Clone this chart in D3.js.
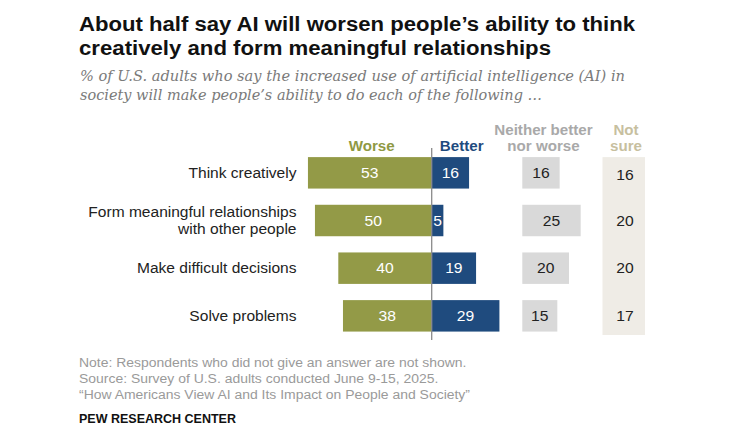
<!DOCTYPE html>
<html>
<head>
<meta charset="utf-8">
<script src="https://cdn.jsdelivr.net/npm/d3@7"></script>
<style>
  html, body { margin: 0; padding: 0; background: #fff; }
  svg { display: block; }
</style>
</head>
<body>
<svg id="chart" width="731" height="437"></svg>
<script>
// ---- data ----
const categories = ["Think creatively", "Form meaningful relationships", "Make difficult decisions", "Solve problems"];
const categoryLines = [["Think creatively"], ["Form meaningful relationships", "with other people"], ["Make difficult decisions"], ["Solve problems"]];
const worse = [53, 50, 40, 38];
const better = [16, 5, 19, 29];
const neither = [16, 25, 20, 15];
const notSure = [16, 20, 20, 17];
const headers = { worse: ["Worse"], better: ["Better"], neither: ["Neither better", "nor worse"], notSure: ["Not", "sure"] };
const titleLines = ["About half say AI will worsen people\u2019s ability to think", "creatively and form meaningful relationships"];
const subtitleLines = ["% of U.S. adults who say the increased use of artificial intelligence (AI) in", "society will make people\u2019s ability to do each of the following \u2026"];
const noteLines = ["Note: Respondents who did not give an answer are not shown.", "Source: Survey of U.S. adults conducted June 9-15, 2025.", "\u201CHow Americans View AI and Its Impact on People and Society\u201D"];
const credit = "PEW RESEARCH CENTER";

// ---- styles ----
const C = { worse: "#939a47", better: "#1f4b7e", neither: "#d9d9d9", notSureBg: "#efece6",
            worseHead: "#8f9943", betterHead: "#1f4b7e", neitherHead: "#a9a9a9", notSureHead: "#c7bf9f" };
const SANS = "'Liberation Sans', Arial, sans-serif";
const SERIF = "'DejaVu Serif', Georgia, serif";

const svg = d3.select("#chart");

function fitText(sel, w) {
  sel.attr("textLength", w).attr("lengthAdjust", "spacingAndGlyphs");
}
function stretch(sel, f) {
  sel.each(function () {
    const len = this.getComputedTextLength();
    d3.select(this).attr("textLength", len * f).attr("lengthAdjust", "spacingAndGlyphs");
  });
}

// Title
const titleEnds = [635, 551];
titleLines.forEach((t, i) => {
  svg.append("text").attr("x", 79).attr("y", 31 + i * 24)
    .attr("font-family", SANS).attr("font-weight", "bold").attr("font-size", 20)
    .attr("fill", "#111").text(t).call(fitText, titleEnds[i] - 79);
});
// Subtitle
const subEnds = [625, 542];
subtitleLines.forEach((t, i) => {
  svg.append("text").attr("x", 80).attr("y", 81 + i * 18.5)
    .attr("font-family", SERIF).attr("font-style", "italic").attr("font-size", 14.5)
    .attr("fill", "#7a7a7a").text(t).call(fitText, subEnds[i] - 80);
});

// Scales
const y = d3.scaleBand().domain(categories).range([149, 149 + 4 * 47.67]).paddingInner(0.34).paddingOuter(0.17);
const x = d3.scaleLinear().domain([0, 100]).range([0, 233.5]);
const zeroX = 431.7;
const neitherX = 522.3;
const notSureX = 625;

// Category labels
categories.forEach((c, i) => {
  const lines = categoryLines[i];
  const cy = y(c) + y.bandwidth() / 2;
  const lh = 16.5;
  lines.forEach((l, j) => {
    svg.append("text").attr("x", 296.5)
      .attr("y", cy + 5 + (j - (lines.length - 1) / 2) * lh)
      .attr("text-anchor", "end").attr("font-family", SANS).attr("font-size", 14)
      .attr("fill", "#222").text(l).call(stretch, 1.11);
  });
});

// Not sure background
svg.append("rect").attr("x", 602.5).attr("y", y(categories[0]))
  .attr("width", 42.5).attr("height", 335 - y(categories[0])).attr("fill", C.notSureBg);

// Bars
const g = svg.append("g");
g.selectAll("rect.worse").data(worse).join("rect").attr("class", "worse")
  .attr("x", d => zeroX - x(d)).attr("y", (d, i) => y(categories[i]))
  .attr("width", d => x(d)).attr("height", y.bandwidth()).attr("fill", C.worse);
g.selectAll("rect.better").data(better).join("rect").attr("class", "better")
  .attr("x", zeroX).attr("y", (d, i) => y(categories[i]))
  .attr("width", d => x(d)).attr("height", y.bandwidth()).attr("fill", C.better);
g.selectAll("rect.neither").data(neither).join("rect").attr("class", "neither")
  .attr("x", neitherX).attr("y", (d, i) => y(categories[i]))
  .attr("width", d => x(d)).attr("height", y.bandwidth()).attr("fill", C.neither);

// Values
const valText = (sel) => sel.attr("text-anchor", "middle").attr("dy", "0.36em")
  .attr("font-family", SANS).attr("font-size", 14.5);
g.selectAll("text.worse").data(worse).join("text").attr("class", "worse").call(valText)
  .attr("x", d => zeroX - x(d) / 2).attr("y", (d, i) => y(categories[i]) + y.bandwidth() / 2)
  .attr("fill", "#fff").text(d => d).call(stretch, 1.08);
g.selectAll("text.better").data(better).join("text").attr("class", "better").call(valText)
  .attr("x", d => zeroX + x(d) / 2).attr("y", (d, i) => y(categories[i]) + y.bandwidth() / 2)
  .attr("fill", "#fff").text(d => d).call(stretch, 1.08);
g.selectAll("text.neither").data(neither).join("text").attr("class", "neither").call(valText)
  .attr("x", d => neitherX + x(d) / 2).attr("y", (d, i) => y(categories[i]) + y.bandwidth() / 2)
  .attr("fill", "#222").text(d => d).call(stretch, 1.08);
g.selectAll("text.notsure").data(notSure).join("text").attr("class", "notsure").call(valText)
  .attr("x", notSureX).attr("y", (d, i) => y(categories[i]) + y.bandwidth() / 2 + (i === 0 ? 2 : 0))
  .attr("fill", "#222").text(d => d).call(stretch, 1.08);

// Zero line
svg.append("line").attr("x1", zeroX).attr("x2", zeroX).attr("y1", 148).attr("y2", 340)
  .attr("stroke", "#8a8a8a").attr("stroke-width", 1.3);

// Headers
function header(lines, cx, color) {
  lines.forEach((l, j) => {
    svg.append("text").attr("x", cx).attr("y", 151 - (lines.length - 1 - j) * 16.5)
      .attr("text-anchor", "middle").attr("font-family", SANS).attr("font-weight", "bold")
      .attr("font-size", 14).attr("fill", color).text(l).call(stretch, 1.08);
  });
}
header(headers.worse, 371.7, C.worseHead);
header(headers.better, 461.7, C.betterHead);
header(headers.neither, 543.5, C.neitherHead);
header(headers.notSure, 626, C.notSureHead);

// Notes
noteLines.forEach((t, i) => {
  svg.append("text").attr("x", 79).attr("y", 367 + i * 16)
    .attr("font-family", SANS).attr("font-size", 12.5).attr("fill", "#9a9a9a").text(t)
    .call(stretch, 1.115);
});
svg.append("text").attr("x", 79).attr("y", 423)
  .attr("font-family", SANS).attr("font-weight", "bold").attr("font-size", 12.5)
  .attr("fill", "#111").text(credit);
</script>
</body>
</html>
